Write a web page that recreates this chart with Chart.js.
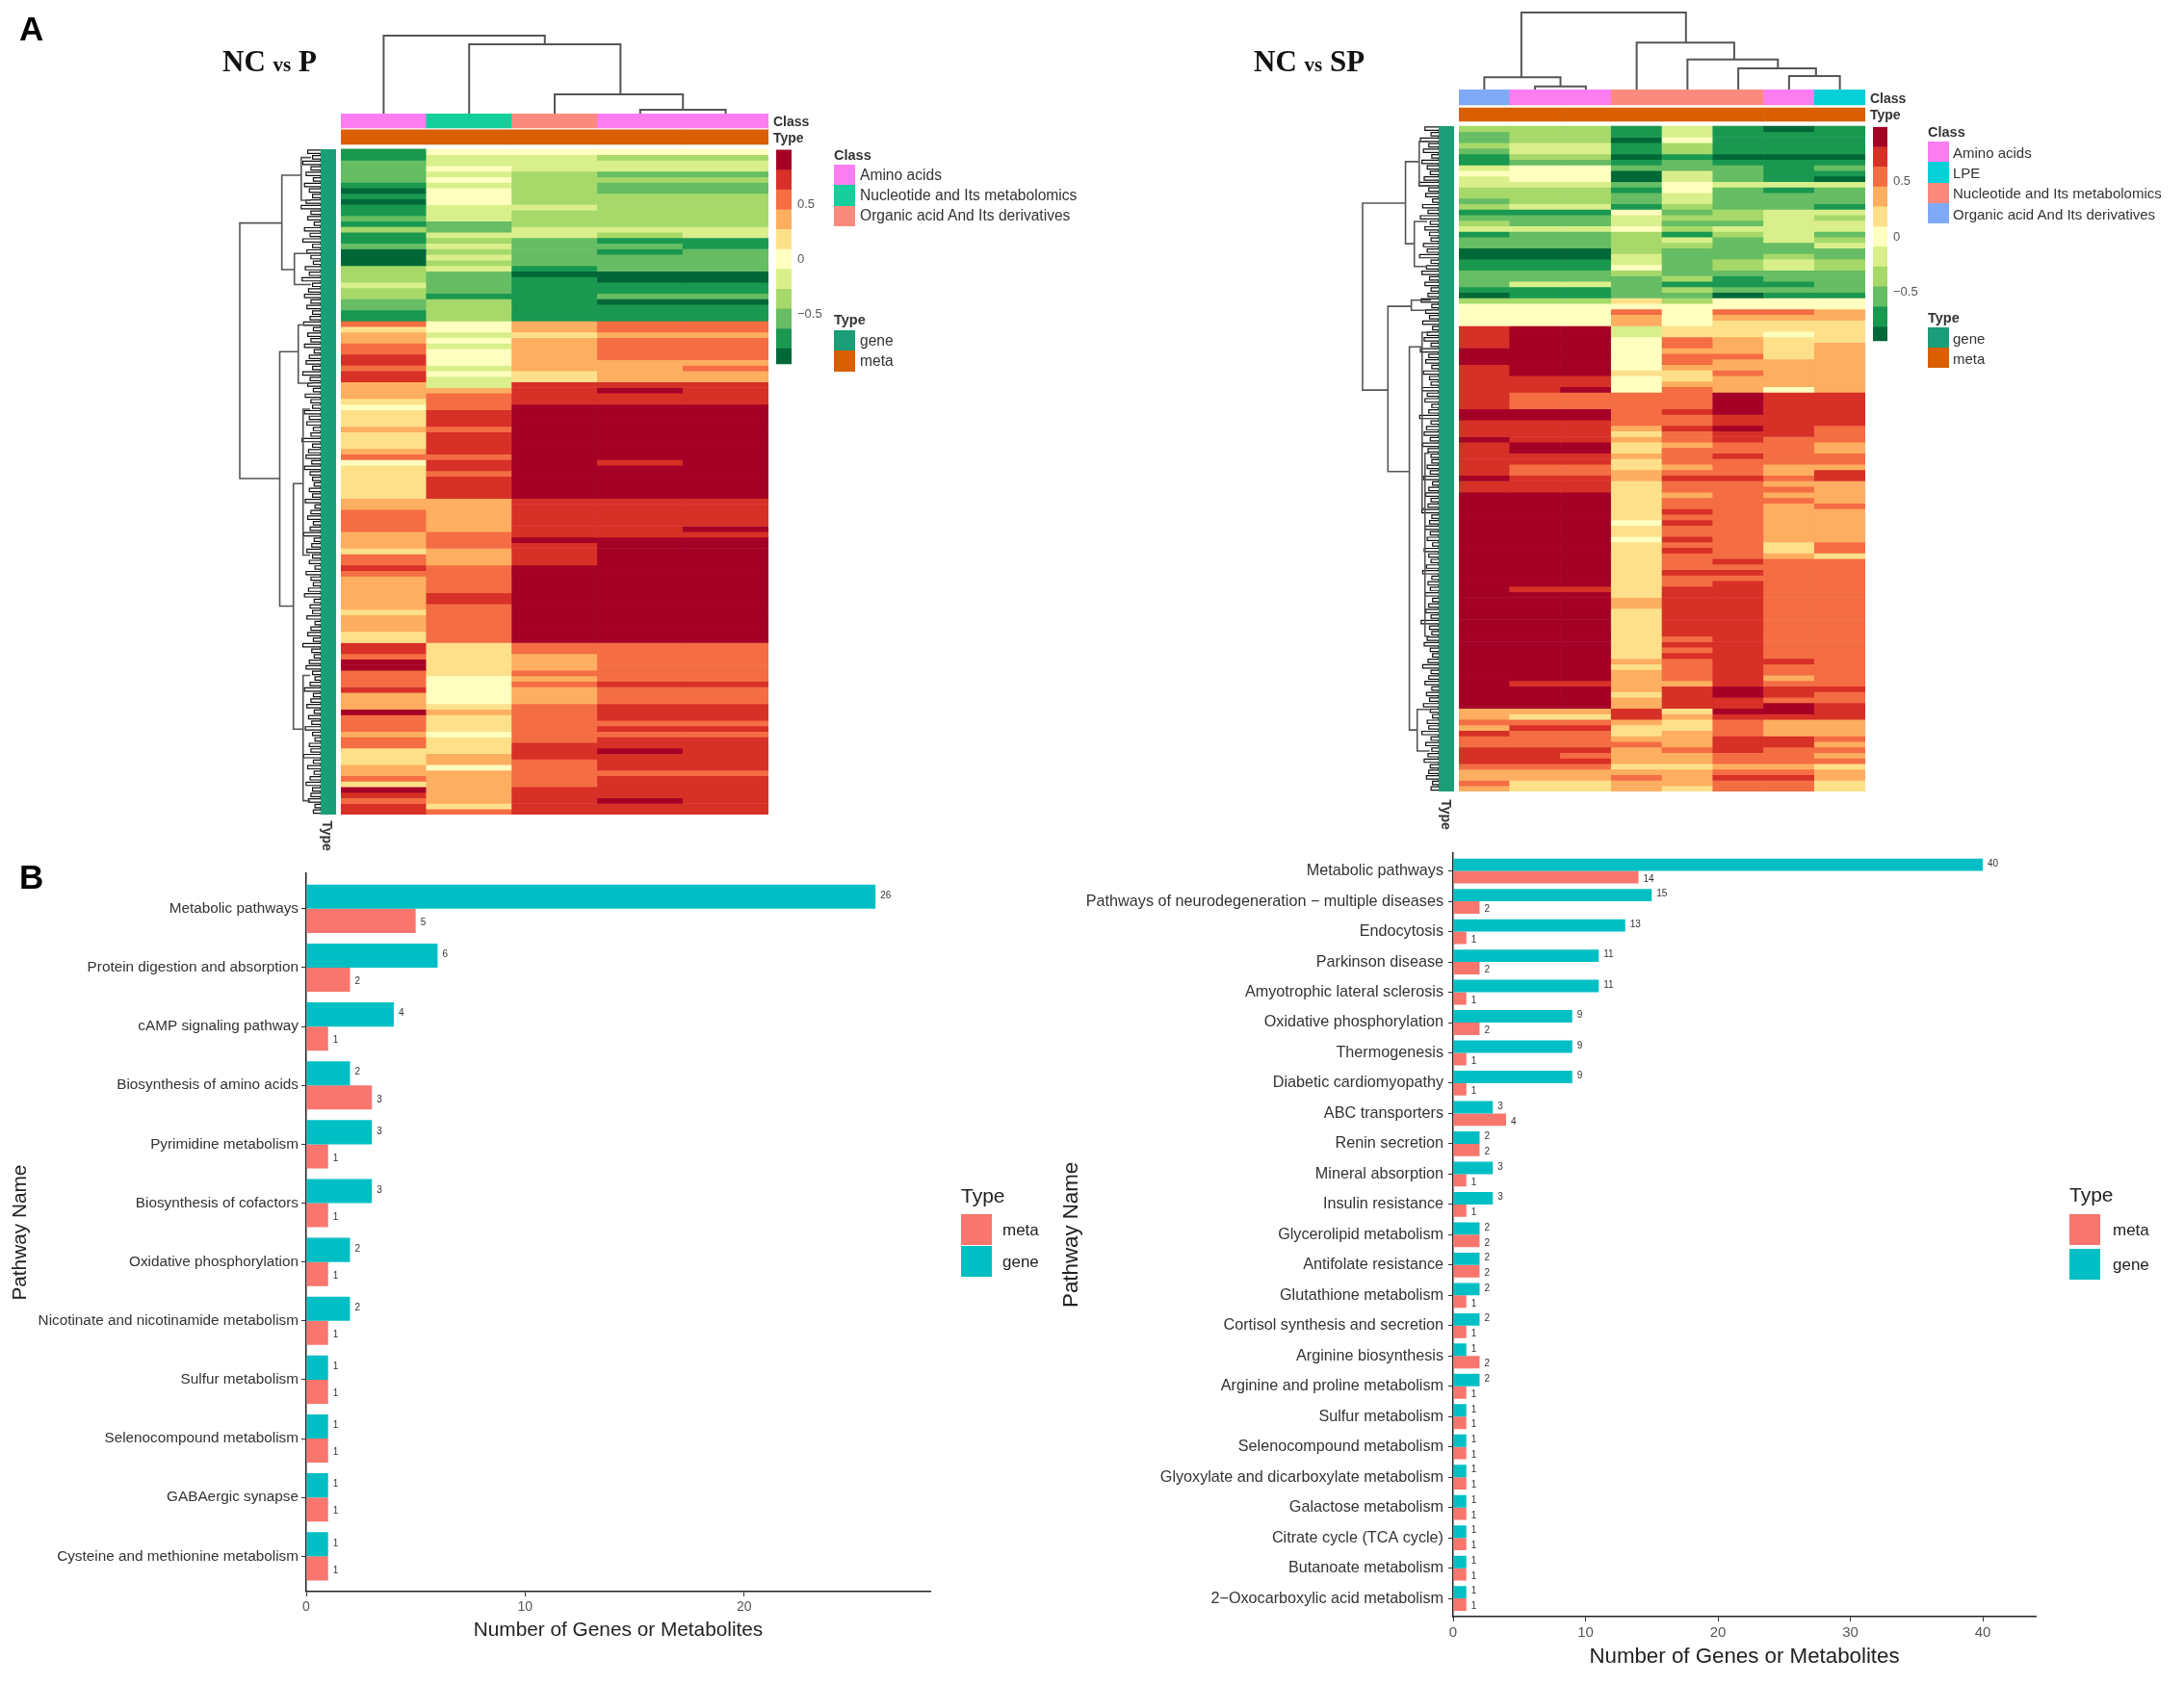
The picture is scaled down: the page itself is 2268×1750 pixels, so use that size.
<!DOCTYPE html>
<html lang="en">
<head>
<meta charset="UTF-8">
<title>NC vs P / NC vs SP</title>
<style>
    body { margin: 0; background: #fff; font-family: "Liberation Sans", Arial, sans-serif; color: #333; }
    #page { position: relative; width: 2268px; height: 1750px; overflow: hidden; filter: blur(0.6px); }
    #page canvas { position: absolute; }
    .txt { position: absolute; white-space: nowrap; line-height: 1; transform: translateY(-50%); }
    .sw { position: absolute; }
    .panel { font-weight: bold; font-size: 35px; color: #000; }
    .title { font-family: "Liberation Serif", serif; font-weight: bold; font-size: 31px; color: #111; }
    .title small { font-size: 21px; }
</style>
<script src="https://cdn.jsdelivr.net/npm/chart.js"></script>
</head>
<body>
<div id="page"></div>
<script>
// heatmap cells are written in steps of the colour key (1 step = 0.18 on the key)
const heatPRows = [
[-4,0,0,0,0],[-4,-1,-1,-2,-2],[-3,-1,-1,-1,-1],[-3,0,-1,-1,-1],[-3,-1,-2,-3,-3],[-3,0,-2,-2,-2],[-4,-1,-2,-3,-3],[-5,0,-2,-3,-3],
[-4,0,-2,-2,-2],[-5,0,-2,-2,-2],[-4,-1,-1,-2,-2],[-4,-1,-2,-2,-2],[-3,-1,-2,-2,-2],[-4,-3,-2,-2,-2],[-2,-3,-1,-1,-1],[-4,-1,-1,-2,-1],
[-4,-2,-3,-4,-4],[-3,-1,-3,-3,-4],[-5,-2,-3,-4,-3],[-5,-1,-3,-3,-3],[-5,-2,-3,-3,-3],[-2,-1,-4,-3,-3],[-2,-3,-5,-5,-5],[-2,-3,-4,-5,-5],
[-1,-3,-4,-4,-4],[-2,-3,-4,-4,-4],[-2,-4,-4,-3,-3],[-3,-2,-4,-5,-5],[-3,-2,-4,-4,-4],[-4,-2,-4,-4,-4],[-4,-2,-4,-4,-4],
[3,0,2,3,3],[1,0,2,3,3],[2,-1,1,2,2],[2,0,2,3,3],[3,-1,2,3,3],[3,0,2,3,3],[4,0,2,3,3],[4,0,2,2,2],[3,-1,2,2,3],[4,0,1,2,2],[4,-1,1,2,2],
[2,-1,4,4,4],[2,2,4,5,4],[2,3,4,4,4],[1,3,4,4,4],[0,3,5,5,5],[1,4,5,5,5],[1,4,5,5,5],[1,4,5,5,5],[2,3,5,5,5],[1,4,5,5,5],[1,4,5,5,5],[1,4,5,5,5],
[2,4,5,5,5],[3,3,5,5,5],[0,4,5,4,5],[1,4,5,5,5],[1,3,5,5,5],[1,4,5,5,5],[1,4,5,5,5],[1,4,5,5,5],[1,4,5,5,5],
[2,2,4,4,4],[2,2,4,4,4],[3,2,4,4,4],[3,2,4,4,4],[3,2,4,4,4],[3,2,4,4,5],[2,3,4,4,4],[2,3,5,5,5],[2,3,4,5,5],[1,2,4,5,5],[3,2,4,5,5],[3,2,4,5,5],
[4,3,5,5,5],[3,3,5,5,5],[2,3,5,5,5],[2,3,5,5,5],[2,3,5,5,5],[2,4,5,5,5],[2,4,5,5,5],[2,3,5,5,5],[1,3,5,5,5],[2,3,5,5,5],
[2,3,5,5,5],[2,3,5,5,5],[1,3,5,5,5],[1,3,5,5,5],[4,1,3,3,3],[4,1,3,3,3],[3,1,2,3,3],[5,1,2,3,3],[5,1,2,3,3],[3,1,3,3,3],[3,0,2,3,3],[3,0,3,4,4],
[4,0,2,3,3],[2,0,2,3,3],[2,0,2,3,3],[2,1,3,4,4],[5,2,3,4,4],[3,1,3,4,4],[3,1,3,3,3],[3,1,3,4,4],[2,0,3,3,3],[3,1,3,4,4],[3,1,4,4,4],[1,1,4,5,4],
[1,2,4,4,4],[1,2,3,4,4],[2,0,3,4,4],[2,2,3,3,3],[3,2,3,4,4],[1,2,3,4,4],[5,2,4,4,4],[4,2,4,4,4],[3,2,4,5,4],[4,1,4,4,4],[4,3,4,4,4]
];
const heatSPRows = [
[-2,-2,-2,-4,-1,-4,-5,-4],[-3,-2,-2,-4,-1,-4,-4,-4],[-3,-2,-2,-5,0,-4,-4,-4],[-2,-1,-1,-4,-2,-4,-4,-4],[-3,-1,-1,-4,-2,-4,-4,-4],[-4,-2,-2,-5,-4,-5,-5,-5],
[-4,-3,-3,-4,-3,-4,-4,-4],[-1,0,0,-3,-3,-3,-4,-3],[0,0,0,-5,-1,-3,-4,-4],[-1,0,0,-5,-1,-3,-4,-5],[-1,-1,-1,-3,0,-1,-1,-1],[-2,-2,-2,-4,0,-3,-4,-3],
[-2,-2,-2,-3,-1,-3,-3,-3],[-3,-2,-2,-3,-1,-3,-3,-3],[-2,-1,-1,-4,-2,-3,-3,-4],[-4,-4,-4,0,-3,-2,-1,-1],[-3,-3,-3,-1,-2,-2,-1,-2],[-2,-3,-3,-1,-3,-3,-1,-1],
[-1,-1,-1,0,-2,-1,-1,-1],[-4,-3,-3,-2,-4,-2,-1,-3],[-3,-3,-3,-2,-1,-3,-1,-2],[-3,-3,-3,-2,-2,-3,-3,-1],[-5,-5,-5,-2,-3,-3,-3,-3],[-5,-5,-5,-1,-3,-3,-2,-3],
[-4,-4,-4,-1,-3,-2,-1,-2],[-4,-4,-4,0,-3,-2,-1,-2],[-3,-3,-3,-2,-3,-3,-3,-3],[-3,-3,-3,-3,-2,-4,-3,-3],[-3,-1,-1,-3,-4,-4,-4,-3],[-4,-4,-4,-3,-2,-3,-3,-3],
[-5,-4,-4,-3,-3,-5,-4,-4],[-2,-2,-2,1,-2,0,0,0],[0,0,0,0,0,0,0,0],[0,0,0,3,0,3,3,2],[0,0,0,2,0,2,2,2],[0,0,0,2,0,1,1,1],
[4,5,5,-1,1,1,1,1],[4,5,5,-1,1,1,0,1],[4,5,5,0,3,2,1,1],[4,5,5,0,3,2,1,2],[5,5,5,0,2,2,1,2],[5,5,5,0,3,3,1,2],[5,5,5,0,3,2,2,2],
[4,5,5,0,2,2,2,2],[4,5,5,1,1,3,2,2],[4,4,4,0,1,2,2,2],[4,4,4,0,2,2,2,2],[4,4,5,0,3,2,0,2],[4,3,3,3,3,5,4,4],[4,3,3,3,3,5,4,4],[4,3,3,3,3,5,4,4],
[5,5,5,3,4,5,4,4],[5,5,5,3,3,4,4,4],[4,4,4,3,3,4,4,4],[4,4,4,2,4,5,4,3],[4,4,4,1,3,4,4,3],[5,4,4,2,3,4,3,3],[4,5,5,1,2,3,3,2],[4,5,5,1,3,3,3,2],
[4,4,4,2,3,4,3,3],[4,4,4,1,3,3,3,3],[4,3,3,1,2,3,2,2],[4,3,3,2,3,3,2,4],[5,4,4,2,4,4,3,4],[4,4,4,1,3,3,2,2],[4,4,4,1,3,3,3,2],[5,5,5,1,2,3,2,2],
[5,5,5,1,3,3,3,2],[5,5,5,1,3,3,2,3],[5,5,5,1,4,3,2,2],[5,5,5,1,3,3,2,2],[5,5,5,0,4,3,2,2],[5,5,5,1,3,3,2,2],[5,5,5,1,3,3,2,2],[5,5,5,0,4,3,2,2],
[5,5,5,1,3,3,1,3],[5,5,5,1,4,3,1,3],[5,5,5,1,3,3,2,1],[5,5,5,1,3,4,3,3],[5,5,5,1,3,3,3,3],[5,5,5,1,4,4,3,3],[5,5,5,1,3,3,3,3],[5,5,5,1,3,4,3,3],
[5,4,4,1,4,4,3,3],[5,5,5,1,4,4,3,3],[5,5,5,2,4,4,3,3],[5,5,5,2,4,4,3,3],[5,5,5,1,4,4,3,3],[5,5,5,1,4,4,3,3],[5,5,5,1,4,4,3,3],[5,5,5,1,4,4,3,3],
[5,5,5,1,4,4,3,3],[5,5,5,1,3,4,3,3],[5,5,5,1,4,4,3,3],[5,5,5,1,3,4,3,3],[5,5,5,1,4,4,3,3],[5,5,5,2,3,4,4,3],[5,5,5,1,3,4,3,3],[5,5,5,2,3,4,3,3],
[5,5,5,2,3,4,2,3],[5,4,4,2,2,4,3,3],[5,5,5,2,4,5,4,4],[5,5,5,1,4,5,4,3],[5,5,5,2,4,4,3,3],[5,5,5,2,4,4,5,4],[2,2,2,4,1,5,5,4],[2,1,1,4,2,4,4,4],
[3,3,3,2,1,3,2,2],[2,4,4,1,1,3,2,2],[4,3,3,1,2,3,2,2],[3,3,3,2,2,4,4,3],[3,3,3,3,2,4,4,2],[4,4,4,2,3,4,3,3],[4,4,3,2,2,3,3,2],[4,4,4,2,2,3,3,3],
[3,3,3,1,1,2,2,1],[2,2,2,2,2,3,3,2],[2,2,2,3,2,4,4,2],[3,1,1,2,2,3,3,1],[2,1,1,2,1,3,3,1]
];
const keyColors = ['#006837','#1a9850','#66bd63','#a6d96a','#d9ef8b','#ffffbf','#fee08b','#fdae61','#f46d43','#d73027','#a50026'];
const keyTicks = [-0.5, 0, 0.5];

const classColors = {
    'Amino acids': '#fb7df0',
    'LPE': '#08d0d8',
    'Nucleotide and Its metabolomics': '#fb8a7e',
    'Organic acid And Its derivatives': '#7fa9f6'
};
const typeColors = { gene: '#1b9e77', meta: '#d95f02' };

const classColP = ['Amino acids', 'Nucleotide and Its metabolomics', 'Organic acid And Its derivatives', 'Amino acids', 'Amino acids'];
const classColSP = ['Organic acid And Its derivatives', 'Amino acids', 'Amino acids', 'Nucleotide and Its metabolomics', 'Nucleotide and Its metabolomics', 'Nucleotide and Its metabolomics', 'Amino acids', 'LPE'];
// in the NC vs P panel the nucleotide class has its own colour
const classColorsP = Object.assign({}, classColors, {
    'Nucleotide and Its metabolomics': '#14cf9b',
    'Organic acid And Its derivatives': '#fb8a7e'
});

// dendrogram merges: [childA, heightA, childB, heightB, mergeHeight]
const topTreeP = [[0.5,0,2.385,0.889,1],[1.5,0,3.27,0.247,0.889],[2.5,0,4,0.05,0.247],[3.5,0,4.5,0,0.05]];
const topTreeSP = [[1.23,0.16,4.47,0.61,1],[0.5,0,2,0.04,0.16],[1.5,0,2.5,0,0.04],[3.5,0,5.42,0.39,0.61],[4.5,0,6.28,0.275,0.39],[5.5,0,7.03,0.175,0.275],[6.5,0,7.5,0,0.175]];
const leftTreeP = [[13.3,0.48,59.4,0.506,1],[4.7,0.24,21.7,0.325,0.48],[1.5,0.12,9.2,0.12,0.24],[18.8,0.12,24.4,0.12,0.325],
    [36.5,0.277,82.4,0.337,0.506],[31.7,0.1,42.2,0.1,0.277],[60.3,0.217,104.6,0.217,0.337],[46.9,0.13,73.2,0.13,0.217],[94.9,0.13,117.5,0.13,0.217]];
const leftTreeSP = [[13.9,0.436,47.6,0.667,1],[6.4,0.256,21.2,0.32,0.436],[2.8,0.12,10.8,0.12,0.256],[17.2,0.15,25.3,0.15,0.32],
    [32.5,0.359,62.3,0.385,0.667],[31.4,0.1,33.2,0.1,0.359],[39.8,0.218,108.9,0.282,0.385],[37.2,0.1,69,0.18,0.218],[59,0.12,92,0.12,0.18],[105.2,0.12,112.7,0.12,0.282]];
// depth of the finest branches, one per row
const leafDepthP = [.16,.1,.22,.12,.18,.09,.2,.14,.1,.18,.24,.12,.16,.08,.2,.13,.22,.1,.17,.12,.09,.19,.14,.23,.1,.15,.2,.12,.17,.1,.13,.21,.09,.16,.12,.2,.08,.14,.18,.1,.22,.13,.16,.09,.19,.12,.1,.2,.14,.17,.09,.12,.23,.1,.15,.18,.11,.2,.13,.1,
    .08,.14,.1,.19,.07,.12,.16,.09,.13,.21,.08,.11,.17,.1,.14,.07,.18,.12,.09,.15,.2,.08,.13,.1,.17,.07,.12,.16,.09,.22,.11,.08,.14,.18,.1,.07,.13,.2,.09,.12,.17,.08,.15,.11,.19,.1,.07,.14,.12,.21,.09,.16,.08,.13,.18,.1,.12,.15,.07,.09];
const leafDepthSP = [.18,.1,.24,.13,.2,.09,.22,.15,.11,.19,.26,.13,.17,.08,.21,.14,.24,.11,.18,.12,.1,.2,.15,.25,.1,.16,.22,.12,.18,.1,.14,.23,.09,.17,.12,.21,.08,.15,.19,.1,.24,.13,.17,.09,.2,.12,.1,.22,.15,.18,.09,.13,.25,.1,.16,.19,.11,.21,.14,.1,
    .09,.15,.11,.2,.08,.13,.17,.1,.14,.22,.09,.12,.18,.11,.15,.08,.19,.13,.1,.16,.21,.09,.14,.11,.18,.08,.13,.17,.1,.23,.12,.09,.15,.19,.11,.08,.14,.21,.1,.13,.18,.09,.16,.12,.2,.11,.08,.15,.13,.22,.1,.17,.09,.14,.19,.11,.13,.16,.08,.1];

// pathway bars
const pathwaysP = ['Metabolic pathways','Protein digestion and absorption','cAMP signaling pathway','Biosynthesis of amino acids','Pyrimidine metabolism','Biosynthesis of cofactors','Oxidative phosphorylation','Nicotinate and nicotinamide metabolism','Sulfur metabolism','Selenocompound metabolism','GABAergic synapse','Cysteine and methionine metabolism'];
const geneP = [26,6,4,2,3,3,2,2,1,1,1,1];
const metaP = [5,2,1,3,1,1,1,1,1,1,1,1];
const xTicksP = [0,10,20];
const pathwaysSP = ['Metabolic pathways','Pathways of neurodegeneration − multiple diseases','Endocytosis','Parkinson disease','Amyotrophic lateral sclerosis','Oxidative phosphorylation','Thermogenesis','Diabetic cardiomyopathy','ABC transporters','Renin secretion','Mineral absorption','Insulin resistance','Glycerolipid metabolism','Antifolate resistance','Glutathione metabolism','Cortisol synthesis and secretion','Arginine biosynthesis','Arginine and proline metabolism','Sulfur metabolism','Selenocompound metabolism','Glyoxylate and dicarboxylate metabolism','Galactose metabolism','Citrate cycle (TCA cycle)','Butanoate metabolism','2−Oxocarboxylic acid metabolism'];
const geneSP = [40,15,13,11,11,9,9,9,3,2,3,3,2,2,2,2,1,2,1,1,1,1,1,1,1];
const metaSP = [14,2,1,2,1,2,1,1,4,2,1,1,2,2,1,1,2,1,1,1,1,1,1,1,1];
const xTicksSP = [0,10,20,30,40];

const page = document.getElementById('page');
Chart.defaults.font.family = '"Liberation Sans", Arial, sans-serif';
Chart.defaults.animation = false;
Chart.defaults.responsive = false;
Chart.defaults.events = [];
Chart.defaults.plugins.legend.display = false;
Chart.defaults.plugins.tooltip.enabled = false;

function addCanvas(x, y, w, h) {
    const c = document.createElement('canvas');
    c.width = w; c.height = h;
    c.style.left = x + 'px'; c.style.top = y + 'px';
    c.style.width = w + 'px'; c.style.height = h + 'px';
    page.appendChild(c);
    return c.getContext('2d');
}
function addText(text, x, y, css, cls) {
    const d = document.createElement('div');
    d.className = 'txt ' + (cls || '');
    d.innerHTML = text;
    d.style.left = x + 'px'; d.style.top = y + 'px';
    if (css) d.style.cssText += ';' + css;
    page.appendChild(d);
    return d;
}
function addSwatch(x, y, w, h, color) {
    const d = document.createElement('div');
    d.className = 'sw';
    d.style.cssText = `left:${x}px;top:${y}px;width:${w}px;height:${h}px;background:${color}`;
    page.appendChild(d);
}
function levelColor(level) { return keyColors[level + 5]; }

function drawHeat(rows, classCol, classMap, box, classSpan, typeSpan) {
    const labels = rows[0].map((_, i) => 'c' + i);
    const datasets = rows.map((row, r) => ({
        data: row.map(() => [r, r + 1]),
        backgroundColor: row.map(levelColor)
    }));
    datasets.push({ data: classCol.map(() => classSpan), backgroundColor: classCol.map(n => classMap[n]) });
    datasets.push({ data: classCol.map(() => typeSpan), backgroundColor: classCol.map(() => typeColors.meta) });
    datasets.forEach(d => { d.barPercentage = 1; d.categoryPercentage = 1; d.borderWidth = 0; });
    new Chart(addCanvas(box.x, box.y, box.w, box.h), {
        type: 'bar',
        data: { labels, datasets },
        options: { scales: {
            x: { display: false, stacked: true },
            y: { display: false, reverse: true, min: classSpan[0], max: rows.length }
        } }
    });
}

function treeDatasets(merges, horizontal, color, width) {
    return merges.map(m => {
        const pts = [[m[0], m[1]], [m[0], m[4]], [m[2], m[4]], [m[2], m[3]]];
        return {
            data: pts.map(p => horizontal ? { x: p[0], y: p[1] } : { x: p[1], y: p[0] }),
            showLine: true, pointRadius: 0, borderColor: color, borderWidth: width, clip: false
        };
    });
}
function drawTopTree(merges, nCols, box) {
    new Chart(addCanvas(box.x, box.y - 3, box.w, box.h + 3), {
        type: 'scatter',
        data: { datasets: treeDatasets(merges, true, '#555', 2) },
        options: {
            layout: { padding: { top: 3 } },
            scales: { x: { display: false, min: 0, max: nCols }, y: { display: false, min: 0, max: 1 } }
        }
    });
}
function drawLeftTree(merges, leaf, nRows, box) {
    const comb = [];
    leaf.forEach((d, i) => {
        comb.push({ x: 0, y: i + 0.15 }, { x: d, y: i + 0.15 }, { x: d, y: i + 0.75 }, { x: 0, y: i + 0.75 });
    });
    const sets = treeDatasets(merges, false, '#555', 1.6);
    sets.push({ data: comb, showLine: true, pointRadius: 0, borderColor: '#111', borderWidth: 1.2, clip: false });
    new Chart(addCanvas(box.x - 3, box.y, box.w + 3, box.h), {
        type: 'scatter',
        data: { datasets: sets },
        options: {
            layout: { padding: { left: 3 } },
            scales: { x: { display: false, min: 0, max: 1, reverse: true }, y: { display: false, min: 0, max: nRows, reverse: true } }
        }
    });
}
function drawRowType(nRows, box) {
    new Chart(addCanvas(box.x, box.y, box.w, box.h), {
        type: 'bar',
        data: { labels: ['Type'], datasets: [{ data: [[0, nRows]], backgroundColor: typeColors.gene, barPercentage: 1, categoryPercentage: 1 }] },
        options: { scales: { x: { display: false }, y: { display: false, reverse: true, min: 0, max: nRows } } }
    });
}
// the plot sits 14px inside its canvas top and bottom, so the canvas is made that much taller
function drawKey(box, yMin, yMax) {
    const step = 2 / keyColors.length;
    new Chart(addCanvas(box.x, box.y - 14, box.w + 44, box.h + 28), {
        type: 'bar',
        data: {
            labels: ['key'],
            datasets: keyColors.map((c, i) => ({
                data: [[-1 + i * step, -1 + (i + 1) * step]], backgroundColor: c,
                barPercentage: 1, categoryPercentage: 1
            }))
        },
        options: {
            layout: { autoPadding: false },
            scales: {
                x: { display: false, stacked: true },
                y: {
                    position: 'right', min: yMin, max: yMax,
                    afterBuildTicks: a => { a.ticks = keyTicks.map(v => ({ value: v })); },
                    afterFit: a => { a.width = 44; },
                    grid: { display: false, drawTicks: false }, border: { display: false },
                    ticks: { padding: 6, color: '#555', font: { size: 13 }, callback: v => String(v).replace('-', '−') }
                }
            }
        }
    });
}

function drawBars(names, gene, meta, xTicks, box, opt) {
    const toPoints = vals => vals.map((v, i) => ({ x: v, y: i }));
    const barLabels = {
        id: 'barLabels',
        afterDatasetsDraw(chart) {
            const ctx = chart.ctx;
            ctx.save();
            ctx.font = '10px "Liberation Sans"';
            ctx.fillStyle = '#333';
            ctx.textBaseline = 'middle';
            chart.data.datasets.forEach((ds, d) => {
                chart.getDatasetMeta(d).data.forEach((bar, i) => {
                    ctx.fillText(ds.data[i].x, bar.x + 5, bar.y + (d === 0 ? -1 : 2));
                });
            });
            ctx.restore();
        }
    };
    const shared = { barPercentage: 1, categoryPercentage: 0.82, borderWidth: 0 };
    new Chart(addCanvas(box.x, box.y, box.w, box.h), {
        type: 'bar',
        data: { datasets: [
            Object.assign({ label: 'gene', data: toPoints(gene), backgroundColor: '#00bfc4' }, shared),
            Object.assign({ label: 'meta', data: toPoints(meta), backgroundColor: '#f8766d' }, shared)
        ] },
        plugins: [barLabels],
        options: {
            indexAxis: 'y',
            layout: { autoPadding: false, padding: { top: opt.padTop, right: opt.padRight } },
            scales: {
                x: {
                    type: 'linear', min: 0, max: opt.xMax, position: 'bottom',
                    afterBuildTicks: a => { a.ticks = xTicks.map(v => ({ value: v })); },
                    afterFit: a => { a.height = opt.xAxisH; },
                    ticks: { color: '#555', font: { size: opt.tickSize }, padding: 3 },
                    grid: { drawOnChartArea: false, tickLength: 5, tickColor: '#333' },
                    border: { color: '#222', width: 1.5 },
                    title: { display: true, text: 'Number of Genes or Metabolites', color: '#222', font: { size: opt.titleSize }, padding: { top: 3, bottom: 0 } }
                },
                y: {
                    type: 'linear', reverse: true, offset: false, min: -0.6, max: names.length - 0.4,
                    afterBuildTicks: a => { a.ticks = names.map((_, i) => ({ value: i })); },
                    afterFit: a => { a.width = opt.yAxisW; },
                    ticks: { autoSkip: false, color: '#333', font: { size: opt.labelSize }, padding: opt.labelPad, callback: v => names[v] },
                    grid: { offset: false, drawOnChartArea: false, tickLength: 5, tickColor: '#333' },
                    border: { color: '#222', width: 1.5 },
                    title: { display: true, text: 'Pathway Name', color: '#222', font: { size: opt.titleSize }, padding: { top: 0, bottom: 0 } }
                }
            }
        }
    });
}

function heatLegends(x, labelX, classTitleY, classNames, classMap, swTop, swH, typeTitleY, typeTop, typeH, size) {
    addText('Class', x, classTitleY, 'font-weight:bold;font-size:14.5px');
    classNames.forEach((n, i) => {
        addSwatch(x, swTop + i * swH, 22, swH, classMap[n]);
        addText(n, labelX, swTop + (i + 0.5) * swH, `font-size:${size}px`);
    });
    addText('Type', x, typeTitleY, 'font-weight:bold;font-size:14.5px');
    ['gene', 'meta'].forEach((n, i) => {
        addSwatch(x, typeTop + i * typeH, 22, typeH, typeColors[n]);
        addText(n, labelX, typeTop + (i + 0.5) * typeH, `font-size:${size}px`);
    });
}
function barLegend(x, labelX, titleY, tops, h) {
    addText('Type', x, titleY, 'font-size:21px;color:#222');
    ['meta', 'gene'].forEach((n, i) => {
        addSwatch(x, tops[i], 32, h, n === 'meta' ? '#f8766d' : '#00bfc4');
        addText(n, labelX, tops[i] + h / 2, 'font-size:17px;color:#222');
    });
}

// panel A, NC vs P
drawTopTree(topTreeP, 5, { x: 354, y: 37, w: 444, h: 81 });
drawHeat(heatPRows, classColP, classColorsP, { x: 354, y: 118, w: 444, h: 728 }, [-6.4, -3.8], [-3.46, -0.87]);
drawLeftTree(leftTreeP, leafDepthP, 120, { x: 249, y: 155, w: 84, h: 691 });
drawRowType(120, { x: 333, y: 155, w: 16, h: 691 });
drawKey({ x: 806, y: 155, w: 16, h: 223 }, -0.96, 1.01);
heatLegends(866, 893, 161, ['Amino acids', 'Nucleotide and Its metabolomics', 'Organic acid And Its derivatives'], classColorsP, 171, 21.3, 332, 343, 21.3, 15.6);
addText('Class', 803, 126, 'font-weight:bold;font-size:14px');
addText('Type', 803, 143, 'font-weight:bold;font-size:14px');
addText('Type', 324, 868, 'font-weight:bold;font-size:14px;transform:translateY(-50%) rotate(90deg)');

// panel A, NC vs SP
drawTopTree(topTreeSP, 8, { x: 1515, y: 13, w: 422, h: 80 });
drawHeat(heatSPRows, classColSP, classColors, { x: 1515, y: 93, w: 422, h: 729 }, [-6.6, -3.82], [-3.3, -0.87]);
drawLeftTree(leftTreeSP, leafDepthSP, 120, { x: 1415, y: 131, w: 79, h: 691 });
drawRowType(120, { x: 1494, y: 131, w: 16, h: 691 });
drawKey({ x: 1945, y: 132, w: 15, h: 222 }, -0.947, 1);
heatLegends(2002, 2028, 137, Object.keys(classColors), classColors, 147, 21.3, 330, 340, 21, 15);
addText('Class', 1942, 102, 'font-weight:bold;font-size:14px');
addText('Type', 1942, 119, 'font-weight:bold;font-size:14px');
addText('Type', 1486, 846, 'font-weight:bold;font-size:14px;transform:translateY(-50%) rotate(90deg)');

// panel B
drawBars(pathwaysP, geneP, metaP, xTicksP, { x: 9, y: 895, w: 971, h: 811 },
    { padTop: 10, padRight: 14, xMax: 28.5, xAxisH: 53, yAxisW: 309, tickSize: 14, labelSize: 15.3, labelPad: 3, titleSize: 20.8 });
drawBars(pathwaysSP, geneSP, metaSP, xTicksSP, { x: 1099, y: 871, w: 1031, h: 863 },
    { padTop: 10, padRight: 16, xMax: 44, xAxisH: 55, yAxisW: 410, tickSize: 15, labelSize: 16.2, labelPad: 5, titleSize: 22.3 });
barLegend(998, 1041, 1241, [1261, 1294], 32);
barLegend(2149, 2194, 1240, [1261, 1297], 32);

addText('A', 20, 29, '', 'panel');
addText('B', 20, 910, '', 'panel');
addText('NC <small>vs</small> P', 231, 63, '', 'title');
addText('NC <small>vs</small> SP', 1302, 63, '', 'title');
</script>
</body>
</html>
